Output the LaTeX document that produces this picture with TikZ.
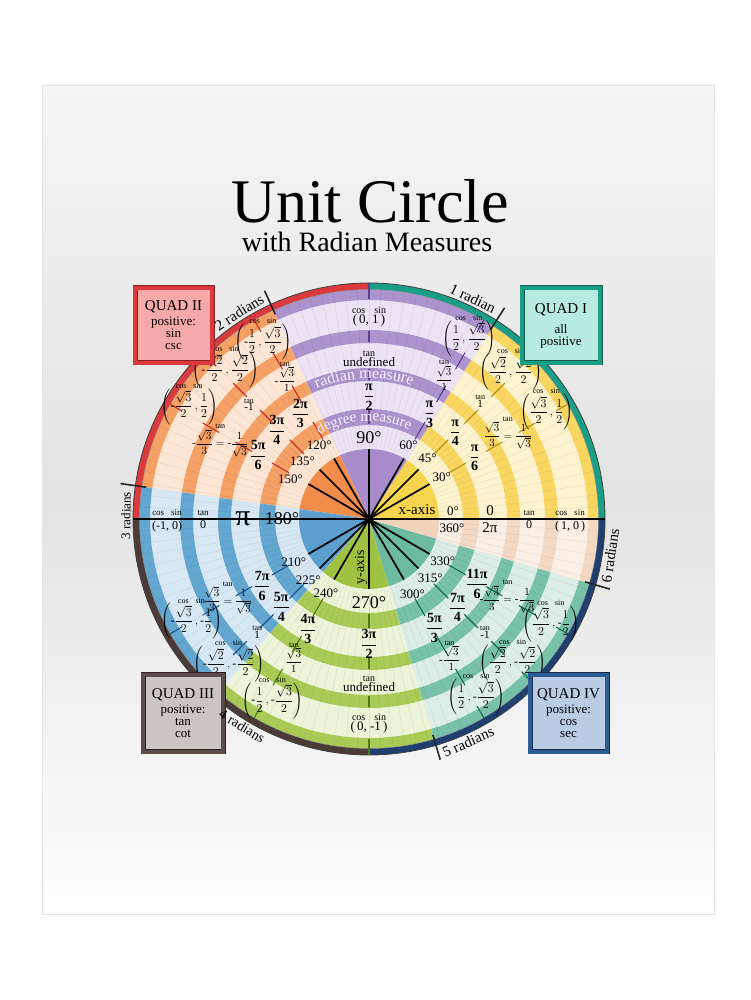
\documentclass[tikz,border=0pt]{standalone}
\usepackage{amsmath}
\usepackage{fontspec}
\setmainfont{Liberation Serif}
\usetikzlibrary{decorations.text}

\definecolor{yL}{HTML}{FDF4CF}\definecolor{yD}{HTML}{F8D660}\definecolor{yS}{HTML}{F6D54E}\definecolor{yT}{HTML}{B39317}
\definecolor{pL}{HTML}{ECE4F4}\definecolor{pD}{HTML}{AC93CD}\definecolor{pS}{HTML}{A88BCA}\definecolor{pT}{HTML}{5E3E8E}
\definecolor{oL}{HTML}{FDE6D4}\definecolor{oD}{HTML}{F5A064}\definecolor{oS}{HTML}{F28C4A}\definecolor{oT}{HTML}{C42E28}
\definecolor{bL}{HTML}{D7E8F4}\definecolor{bD}{HTML}{63A7D1}\definecolor{bS}{HTML}{5C9FCF}\definecolor{bT}{HTML}{1D5686}
\definecolor{gL}{HTML}{EEF4D7}\definecolor{gD}{HTML}{A9CB55}\definecolor{gS}{HTML}{A0C242}\definecolor{gT}{HTML}{4E7A17}
\definecolor{tL}{HTML}{DCEEE7}\definecolor{tD}{HTML}{78C2A9}\definecolor{tS}{HTML}{6CBBA0}\definecolor{tT}{HTML}{166B4E}
\definecolor{kL}{HTML}{FBEFE5}\definecolor{kD}{HTML}{F3D8C3}\definecolor{kS}{HTML}{F1D2BA}
\definecolor{qI}{HTML}{1B9E86}\definecolor{qII}{HTML}{DA3A3C}\definecolor{qIII}{HTML}{4A3B37}\definecolor{qIV}{HTML}{1E3F70}
\definecolor{txp}{HTML}{F6F2FB}
\definecolor{fII}{HTML}{F5A9A8}\definecolor{dII}{HTML}{8E1F22}
\definecolor{fI}{HTML}{B7EBDF}\definecolor{dI}{HTML}{0F5C4D}
\definecolor{fIII}{HTML}{CBC4C2}\definecolor{rIII}{HTML}{5C4D48}\definecolor{dIII}{HTML}{2B211F}
\definecolor{fIV}{HTML}{B9CCE4}\definecolor{rIV}{HTML}{2D5C92}\definecolor{dIV}{HTML}{142C4C}

\newcommand\fsz[1]{\fontsize{#1}{#1}\selectfont}
\newcommand\rdf[2]{$\dfrac{\text{#1}}{\text{#2}}$}
\newcommand\crd[2]{$\left(#1\,,#2\right)$}
\newcommand\mn{\text{-}}

\tikzset{
  cs/.style={inner sep=0pt, font=\fsz{8}},
  crd/.style={inner sep=0pt, font=\fsz{12}, label={[cs]above:cos\hspace{7pt}sin}},
  tnl/.style={inner sep=0pt, font=\fsz{11}, label={[cs]above:tan}},
  rdl/.style={inner sep=0pt, font=\fsz{14}\bfseries},
  dgl/.style={inner sep=0pt, font=\fsz{13}},
  bigdeg/.style={inner sep=0pt, font=\fsz{18}},
  radtxt/.style={inner sep=0pt, font=\fsz{15}},
  plain/.style={inner sep=0pt, font=\fsz{12}},
  qbox/.style n args={3}{draw=#1, double=#2, fill=#3, line width=0.9pt, double distance=3.2pt,
     minimum width=77pt, minimum height=75pt, align=center, inner sep=0pt, font=\fontsize{13}{12}\selectfont},
}

\begin{document}
\begin{tikzpicture}[x=1pt,y=1pt]
\useasboundingbox (0,0) rectangle (750,1000);
\fill[white] (0,0) rectangle (750,1000);
\shade[top color=black!4, bottom color=white, middle color=black!11] (42,86) rectangle (714,915);
\draw[black!10, line width=0.6pt] (42,86) rectangle (714,915);

\node[anchor=base, inner sep=0pt, font=\fsz{62}] (title) at (370,777) {Unit Circle};
\node[anchor=base, inner sep=0pt, font=\fsz{28}] (subtitle) at (367,748) {with Radian Measures};

\begin{scope}[shift={(369,481)}]
% sectors
\foreach \a/\b/\L/\D/\S in {0/57.2958/yL/yD/yS, 57.2958/114.5916/pL/pD/pS, 114.5916/171.8873/oL/oD/oS,
   171.8873/229.1831/bL/bD/bS, 229.1831/286.4789/gL/gD/gS, 286.4789/343.7747/tL/tD/tS, 343.7747/360/kL/kD/kS}{
  \fill[\L] (0,0) -- (\a:229.5) arc[start angle=\a, end angle=\b, radius=229.5] -- cycle;
  \foreach \ro/\ri in {229.5/219, 189/176, 151/138, 110/94}{
    \fill[\D] (\a:\ro) arc[start angle=\a, end angle=\b, radius=\ro] -- (\b:\ri) arc[start angle=\b, end angle=\a, radius=\ri] -- cycle;
  }
  \fill[\S] (0,0) -- (\a:70) arc[start angle=\a, end angle=\b, radius=70] -- cycle;
}
% faint grid
\foreach \g in {0,3,...,357}{\draw[black, opacity=0.07, line width=0.5pt] (\g:72) -- (\g:229);}
% outer ring by quadrant
\foreach \a/\c in {0/qI, 90/qII, 180/qIII, 270/qIV}{
  \fill[\c] (\a:236) arc[start angle=\a, end angle=\a+90, radius=236] -- (\a+90:229.5) arc[start angle=\a+90, end angle=\a, radius=229.5] -- cycle;
}
\draw[black!75, line width=0.8pt] (0,0) circle (236);
\draw[black!45, line width=0.4pt] (0,0) circle (229.5);

% ticks at special angles
\foreach \t/\c in {30/yT,45/yT,60/pT,120/oT,135/oT,150/oT,210/bT,225/bT,240/gT,300/tT,315/tT,330/tT}{
  \foreach \ri/\ro in {92/112, 135/154, 173/192, 216/230}{\draw[\c, line width=1.1pt] (\t:\ri) -- (\t:\ro);}
  \draw[black, line width=1.7pt] (0,0) -- (\t:70);
}
\foreach \t/\c in {90/pT,270/gT}{
  \foreach \ri/\ro in {95/109, 139/150, 177/188, 220/236}{\draw[\c, line width=1.1pt] (\t:\ri) -- (\t:\ro);}
}
\draw[black, line width=2.4pt] (0,-70) -- (0,70);
\draw[black, line width=2.4pt] (-236,0) -- (236,0);

% radian ticks
\foreach \k/\t in {1/57.2958, 2/114.5916, 3/171.8873, 4/229.1831, 5/286.4789, 6/343.7747}{
  \draw[black!85, line width=1.6pt] (\t:225) -- (\t:251);
}

% curved texts
\path[decorate, decoration={text along path, text align=center,
  text={|\fsz{16}\color{txp}|radian measure}}] (126:140.5) arc[start angle=126, end angle=58, radius=140.5];
\path[decorate, decoration={text along path, text align=center,
  text={|\fsz{15}\color{txp}|degree measure}}] (128:98) arc[start angle=128, end angle=58, radius=98];

% ---- Quadrant I
\node[dgl] (d30) at (30:84) {30°};
\node[dgl] (d45) at (46:84) {45°};
\node[dgl] (d60) at (62:84) {60°};
\node[rdl] (r30) at (30:122) {\rdf{π}{6}};
\node[rdl] (r45) at (45:122) {\rdf{π}{4}};
\node[rdl] (r60) at (60:121) {\rdf{π}{3}};
\node[tnl] (t30) at (31:162) {$\dfrac{\sqrt{3}}{3}=\dfrac{1}{\sqrt{3}}$};
\node[tnl] (t45) at (46:160) {1};
\node[tnl] (t60) at (62:160) {$\dfrac{\sqrt{3}}{1}$};
\node[crd] (c30) at (31:207) {\crd{\dfrac{\sqrt{3}}{2}}{\dfrac{1}{2}}};
\node[crd] (c45) at (46:204) {\crd{\dfrac{\sqrt{2}}{2}}{\dfrac{\sqrt{2}}{2}}};
\node[crd] (c60) at (61:206) {\crd{\dfrac{1}{2}}{\dfrac{\sqrt{3}}{2}}};

% ---- Quadrant II
\node[dgl] (d120) at (124:89) {120°};
\node[dgl] (d135) at (139:88) {135°};
\node[dgl] (d150) at (153:88) {150°};
\node[rdl] (r120) at (123:126) {\rdf{2π}{3}};
\node[rdl] (r135) at (136:128) {\rdf{3π}{4}};
\node[rdl] (r150) at (150:128) {\rdf{5π}{6}};
\node[tnl] (t120) at (121:163) {$\mn\dfrac{\sqrt{3}}{1}$};
\node[tnl] (t135) at (137:164) {-1};
\node[tnl] (t150) at (153:167) {$\mn\dfrac{\sqrt{3}}{3}=\mn\dfrac{1}{\sqrt{3}}$};
\node[crd] (c120) at (121:206) {\crd{\mn\dfrac{1}{2}}{\dfrac{\sqrt{3}}{2}}};
\node[crd] (c135) at (134:207) {\crd{\mn\dfrac{\sqrt{2}}{2}}{\dfrac{\sqrt{2}}{2}}};
\node[crd] (c150) at (148:212) {\crd{\mn\dfrac{\sqrt{3}}{2}}{\dfrac{1}{2}}};

% ---- Quadrant III
\node[dgl] (d210) at (210:87) {210°};
\node[dgl] (d225) at (225:86) {225°};
\node[dgl] (d240) at (240:86) {240°};
\node[rdl] (r210) at (212:126) {\rdf{7π}{6}};
\node[rdl] (r225) at (225:124) {\rdf{5π}{4}};
\node[rdl] (r240) at (241:126) {\rdf{4π}{3}};
\node[tnl] (t210) at (210:163) {$\dfrac{\sqrt{3}}{3}=\dfrac{1}{\sqrt{3}}$};
\node[tnl] (t225) at (226:161) {1};
\node[tnl] (t240) at (242:160) {$\dfrac{\sqrt{3}}{1}$};
\node[crd] (c210) at (210:205) {\crd{\mn\dfrac{\sqrt{3}}{2}}{\mn\dfrac{1}{2}}};
\node[crd] (c225) at (226:202) {\crd{\mn\dfrac{\sqrt{2}}{2}}{\mn\dfrac{\sqrt{2}}{2}}};
\node[crd] (c240) at (242:206) {\crd{\mn\dfrac{1}{2}}{\mn\dfrac{\sqrt{3}}{2}}};

% ---- Quadrant IV
\node[dgl] (d300) at (300:87) {300°};
\node[dgl] (d315) at (316:85) {315°};
\node[dgl] (d330) at (330:85) {330°};
\node[rdl] (r300) at (301:127) {\rdf{5π}{3}};
\node[rdl] (r315) at (315:125) {\rdf{7π}{4}};
\node[rdl] (r330) at (329:126) {\rdf{11π}{6}};
\node[tnl] (t300) at (300:161) {$\mn\dfrac{\sqrt{3}}{1}$};
\node[tnl] (t315) at (315:164) {-1};
\node[tnl] (t330) at (330:160) {$\mn\dfrac{\sqrt{3}}{3}=\mn\dfrac{1}{\sqrt{3}}$};
\node[crd] (c300) at (301:208) {\crd{\dfrac{1}{2}}{\mn\dfrac{\sqrt{3}}{2}}};
\node[crd] (c315) at (315:203) {\crd{\dfrac{\sqrt{2}}{2}}{\mn\dfrac{\sqrt{2}}{2}}};
\node[crd] (c330) at (330:210) {\crd{\dfrac{\sqrt{3}}{2}}{\mn\dfrac{1}{2}}};

% ---- axes labels
% 90
\node[bigdeg] (d90) at (90:81) {90°};
\node[rdl] (r90) at (90:122) {\rdf{π}{2}};
\node[inner sep=0pt, font=\fsz{13}, label={[cs, font=\fsz{10}]above:tan}] (t90) at (90:157) {undefined};
\node[inner sep=0pt, font=\fsz{13}, label={[cs, font=\fsz{10}]above:cos\hspace{9pt}sin}] (c90) at (90:199) {(\,0, 1\,)};
% 270
\node[bigdeg] (d270) at (270:84) {270°};
\node[rdl] (r270) at (270:125) {\rdf{3π}{2}};
\node[inner sep=0pt, font=\fsz{13}, label={[cs, font=\fsz{10}]above:tan}] (t270) at (270:168) {undefined};
\node[inner sep=0pt, font=\fsz{13}, label={[cs, font=\fsz{10}]above:cos\hspace{9pt}sin}] (c270) at (270:208) {(\,0, -1\,)};
% 180
\node[bigdeg] (d180) at (-87,0) {180°};
\node[inner sep=0pt, font=\fsz{30}] (r180) at (-126,0) {π};
\node[inner sep=0pt, font=\fsz{9}] (t180a) at (-166,6) {tan};
\node[plain] (t180) at (-166,-6) {0};
\node[inner sep=0pt, font=\fsz{9}] (c180a) at (-202,6) {cos\hspace{7pt}sin};
\node[plain] (c180) at (-202,-8) {(-1, 0)};
% 0
\node[inner sep=0pt, font=\fsz{15}] (xax) at (48,9) {x-axis};
\node[dgl] (d0) at (84,8) {0°};
\node[dgl] (d360) at (83,-9) {360°};
\node[inner sep=0pt, font=\fsz{15}] (r0) at (121,8) {0};
\node[inner sep=0pt, font=\fsz{15}] (r360) at (121,-9) {2π};
\node[inner sep=0pt, font=\fsz{9}] (t0a) at (160,6) {tan};
\node[plain] (t0) at (160,-6) {0};
\node[inner sep=0pt, font=\fsz{9}] (c0a) at (201,6) {cos\hspace{7pt}sin};
\node[plain] (c0) at (201,-8) {(\,1, 0\,)};
\node[inner sep=0pt, font=\fsz{14}, rotate=90] (yax) at (-8,-48) {y-axis};
\end{scope}

% quadrant boxes
\node[qbox={dII}{qII}{fII}] (QII) at (173.5,674.5) {{\fsz{15}QUAD II}\\[3pt]positive:\\sin\\csc};
\node[qbox={dI}{qI}{fI}, minimum width=78pt] (QI) at (561,674.5) {{\fsz{15}QUAD I}\\[8pt]all\\positive};
\node[qbox={dIII}{rIII}{fIII}, minimum width=80pt, minimum height=77pt] (QIII) at (183,286.5) {{\fsz{15}QUAD III}\\[3pt]positive:\\tan\\cot};
\node[qbox={dIV}{rIV}{fIV}, minimum height=77pt] (QIV) at (568.5,286.5) {{\fsz{15}QUAD IV}\\[3pt]positive:\\cos\\sec};

% radian texts (drawn over the boxes)
\begin{scope}[shift={(369,481)}]
\node[radtxt, rotate=-25.2] (rad1) at (64.8:244) {1 radian};
\node[radtxt, rotate=32.1] (rad2) at (122.1:244) {2 radians};
\node[radtxt, rotate=89.2, font=\fsz{13}] (rad3) at (179.2:243) {3 radians};
\node[radtxt, rotate=-31.5, font=\fsz{14}] (rad4) at (238.5:243) {4 radians};
\node[radtxt, rotate=24] (rad5) at (294:244) {5 radians};
\node[radtxt, rotate=81.3] (rad6) at (351.3:244) {6 radians};
\end{scope}
\end{tikzpicture}
\end{document}
